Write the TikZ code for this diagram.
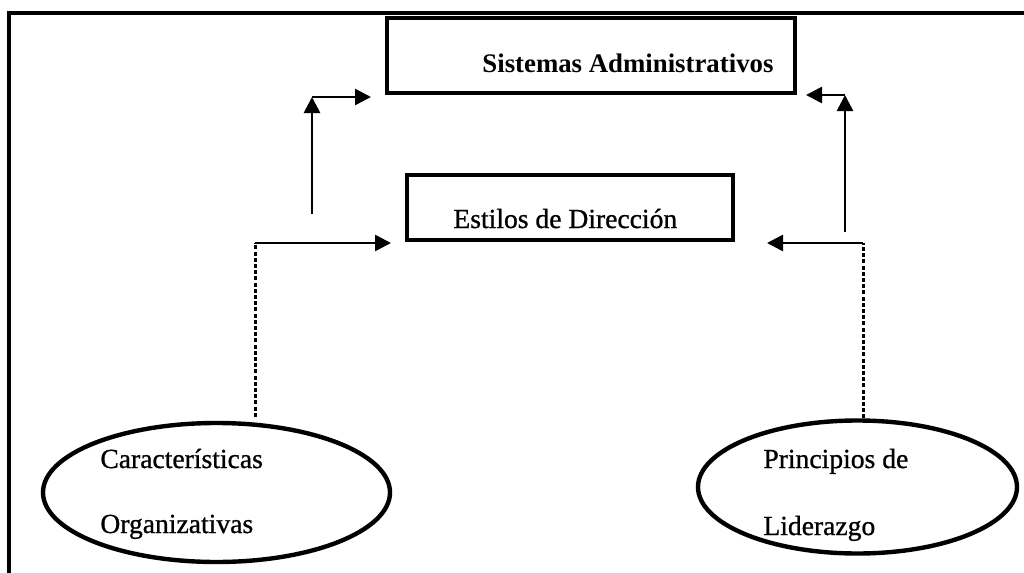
\documentclass[tikz,border=0pt]{standalone}
\usepackage{fontspec}
\setmainfont{Liberation Serif}
\newfontfamily\heavyserif{Liberation Serif}[FakeBold=0.9]
\usetikzlibrary{arrows.meta,shapes.geometric}
\begin{document}
\begin{tikzpicture}[x=0.5pt,y=-0.5pt,
  frame/.style={line width=2pt},
  boxnode/.style={draw,line width=2.4pt,rectangle,inner sep=0pt},
  ellnode/.style={draw,line width=2.2pt,ellipse,inner sep=0pt},
  lbl/.style={anchor=base west,inner sep=0pt,font=\heavyserif\fontsize{13.8pt}{16pt}\selectfont},
  arr/.style={line width=1.3pt,-{Triangle[length=8pt,width=8pt]}},
  dotline/.style={line width=1.5pt,dash pattern=on 2pt off 1.1pt}]
\useasboundingbox (0,0) rectangle (1024,573);
\draw[frame] (9,573) -- (9,13) -- (1024,13);
% boxes
\node[boxnode,minimum width=204pt,minimum height=37.5pt] (sa) at (591,55.5) {};
\node[lbl,font=\bfseries\fontsize{13.4pt}{16pt}\selectfont] (satxt) at (482,72) {Sistemas Administrativos};
\node[boxnode,minimum width=163pt,minimum height=32.5pt] (ed) at (570,207.5) {};
\node[lbl,font=\heavyserif\fontsize{13.8pt}{16pt}\selectfont] (edtxt) at (453,228) {Estilos de Dirección};
% ellipses
\node[ellnode,minimum width=173.5pt,minimum height=69.5pt] (co) at (216.5,492.5) {};
\node[lbl] (cot1) at (100,468) {Características};
\node[lbl] (cot2) at (100,533) {Organizativas};
\node[ellnode,minimum width=159.5pt,minimum height=66.5pt] (pl) at (857.5,487) {};
\node[lbl] (plt1) at (763,468) {Principios de};
\node[lbl] (plt2) at (763,535) {Liderazgo};
% coordinates
\coordinate (tlb) at (312,214);
\coordinate (tlc) at (312,97);
\coordinate (tle) at (371,97);
\coordinate (trb) at (845,232);
\coordinate (trc) at (845,95);
\coordinate (tre) at (806,95);
\coordinate (dlc) at (255,243);
\coordinate (dle) at (391,243);
\coordinate (drc) at (863,243);
\coordinate (dre) at (767,243);
% connectors
\draw[arr] (tlb) -- (tlc);
\draw[arr] (tlc) -- (tle);
\draw[arr] (trb) -- (trc);
\draw[arr] (trc) -- (tre);
\draw[dotline] (co.north -| dlc) ++(0,-4) -- (dlc);
\draw[arr] (dlc) -- (dle);
\draw[dotline] (pl.north -| drc) -- (drc);
\draw[arr] (drc) -- (dre);
\end{tikzpicture}
\end{document}
